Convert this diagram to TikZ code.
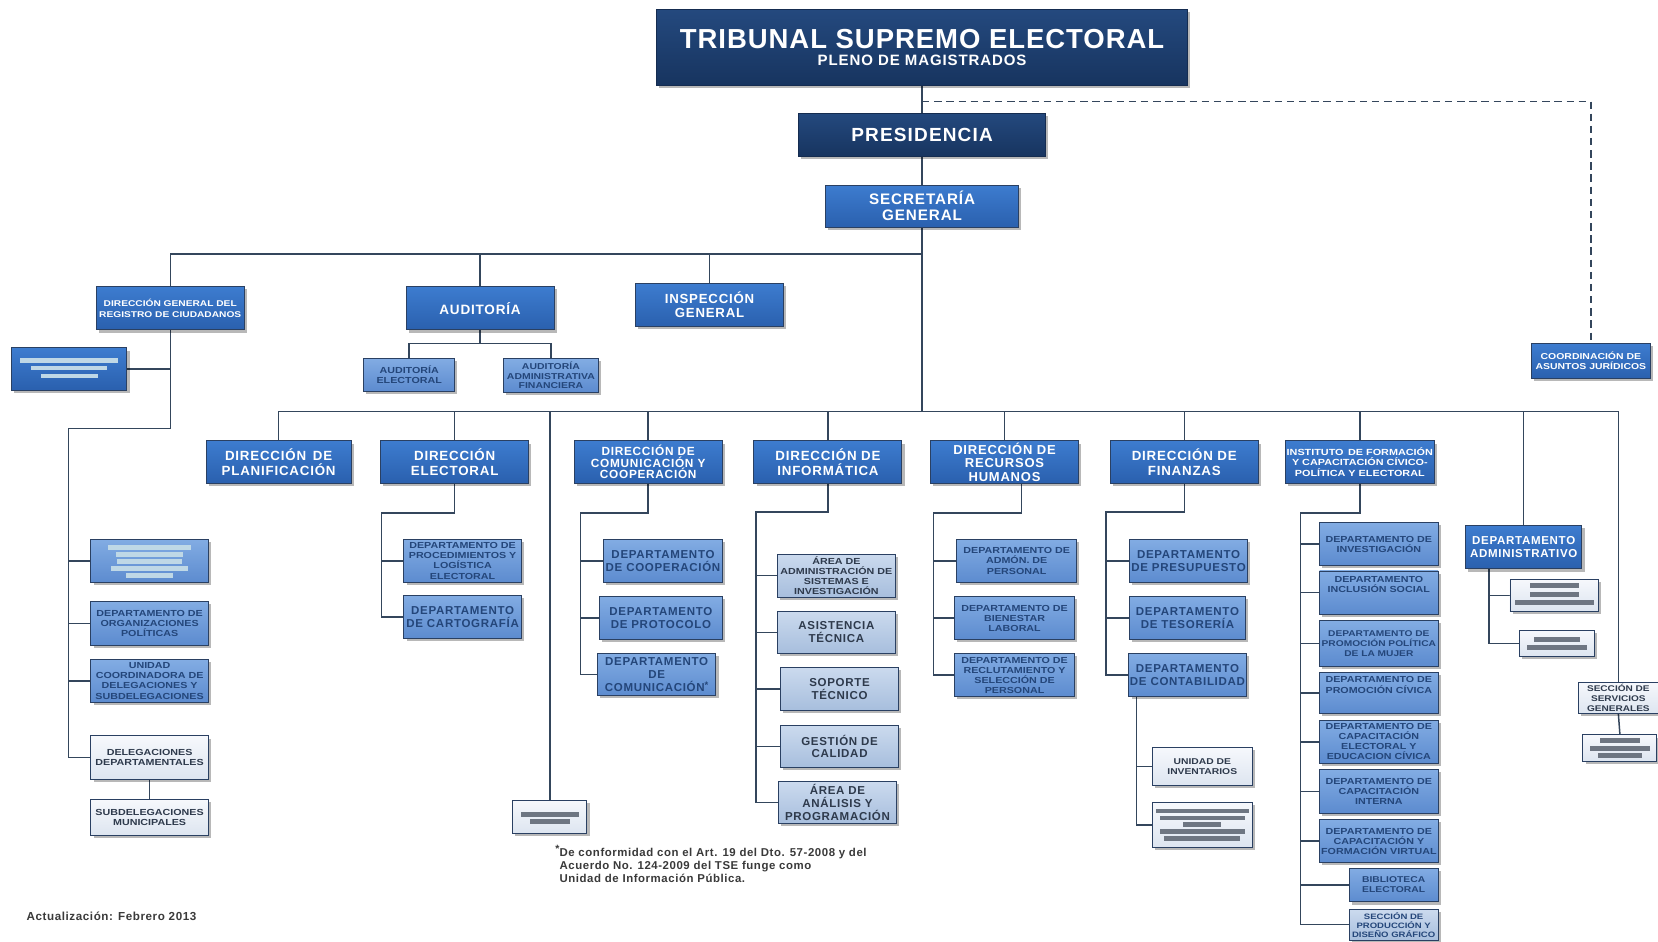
\documentclass[tikz,border=0pt]{standalone}
\usepackage{fontspec}
\setmainfont{Liberation Sans}
\newfontfamily\widefont[LetterSpace=6]{Liberation Sans}
\newfontfamily\titlefont[LetterSpace=3.5]{Liberation Sans}
\newfontfamily\notefont[LetterSpace=5]{Liberation Sans}
\newfontfamily\xfont[FakeStretch=1.22]{Liberation Sans}
\usetikzlibrary{shadows}

\definecolor{navyT}{HTML}{24497E}
\definecolor{navyB}{HTML}{17345F}
\definecolor{navyD}{HTML}{152C50}
\definecolor{midT}{HTML}{3D7CCF}
\definecolor{midB}{HTML}{2A60AE}
\definecolor{lightT}{HTML}{82ACE3}
\definecolor{lightB}{HTML}{5C8BCF}
\definecolor{gbT}{HTML}{CBDAEE}
\definecolor{gbB}{HTML}{A7BEDD}
\definecolor{paleT}{HTML}{F6F8FC}
\definecolor{paleB}{HTML}{DDE5F0}
\definecolor{bdr}{HTML}{2A4062}
\definecolor{deptText}{HTML}{24467A}
\definecolor{darkText}{HTML}{2E3A4C}
\definecolor{lineC}{HTML}{34465C}
\definecolor{hatchL}{HTML}{BFD8E6}
\definecolor{hatchD}{HTML}{6E7682}
\definecolor{noteC}{HTML}{3A3A3A}

\newcommand\fs[2]{\fontsize{#1}{#2}\selectfont}
% box: style, name, left, top, right, bottom, text
\newcommand\ob[7]{\node[#1, minimum width={(#5)-(#3)}, minimum height={(#6)-(#4)}] (#2) at ({((#3)+(#5))/2},{((#4)+(#6))/2}) {#7};}
% redacted text strip: colour, centre x, centre y, width
\newcommand\hatchbar[4]{\fill[#1] ({(#2)-(#4)/2},{(#3)-2.2}) rectangle ({(#2)+(#4)/2},{(#3)+2.2});}

\pgfdeclarelayer{back}
\pgfdeclarelayer{wires}
\pgfsetlayers{back,wires,main}

\tikzset{
  box/.style={draw=bdr, line width=0.9pt, inner sep=1pt, outer sep=0pt, align=center,
    drop shadow={shadow xshift=2.5pt, shadow yshift=-2.5pt, fill=black, opacity=.28}},
  navy/.style={box, top color=navyT, bottom color=navyB, draw=navyD, text=white},
  mid/.style={box, top color=midT, bottom color=midB, text=white},
  light/.style={box, top color=lightT, bottom color=lightB, text=deptText},
  gblue/.style={box, top color=gbT, bottom color=gbB, text=darkText},
  pale/.style={box, top color=paleT, bottom color=paleB, text=darkText},
  ln/.style={draw=lineC, line width=1.4pt},
  wA/.style={font=\widefont\bfseries\fs{12.6}{13.5}},
  wC/.style={font=\widefont\bfseries\fs{10.9}{12}},
  sA/.style={font=\xfont\bfseries\fs{8.3}{9.5}},
}

\begin{document}
\begin{tikzpicture}[x=1pt,y=-1pt]
\begin{pgfonlayer}{back}
  \fill[white] (0,0) rectangle (1568,890);
\end{pgfonlayer}
\useasboundingbox (0,0) rectangle (1568,890);

% ---------- top of the hierarchy ----------
\ob{navy,font=\bfseries\fs{14}{16.5}}{tse}{621}{9}{1123}{81}{{\titlefont\bfseries\fs{26}{16.5}TRIBUNAL SUPREMO ELECTORAL}\\{\widefont\bfseries\fs{14.2}{16.5}PLENO DE MAGISTRADOS}}
\ob{navy,font=\widefont\bfseries\fs{18}{19}}{pres}{755}{107}{989}{148}{PRESIDENCIA}
\ob{mid,font=\widefont\bfseries\fs{14.4}{15}}{sec}{781}{175}{963}{215}{SECRETARÍA\\GENERAL}
\ob{mid,font=\xfont\bfseries\fs{7.9}{10}}{dgrc}{91}{271}{231}{312}{DIRECCIÓN GENERAL DEL\\REGISTRO DE CIUDADANOS}
\ob{mid,font=\widefont\bfseries\fs{12.8}{14}}{aud}{384}{271}{524}{312}{AUDITORÍA}
\ob{mid,font=\widefont\bfseries\fs{12.5}{13.5}}{insp}{601}{268}{741}{309}{INSPECCIÓN\\GENERAL}
\ob{light,sA}{ae}{344}{339}{430}{370}{AUDITORÍA\\ELECTORAL}
\ob{light,font=\xfont\bfseries\fs{8.1}{9.3}}{aaf}{476}{339}{566}{371}{AUDITORÍA\\ADMINISTRATIVA\\FINANCIERA}
\ob{mid,font=\xfont\bfseries\fs{8.1}{9.6}}{cj}{1448}{325}{1561}{358}{COORDINACIÓN DE\\ASUNTOS JURÍDICOS}
\ob{mid}{red0}{11}{329}{120}{369}{}

% ---------- directorates ----------
\ob{mid,wA}{plan}{195}{417}{332}{457}{DIRECCIÓN\enspace DE\\PLANIFICACIÓN}
\ob{mid,wA}{elec}{360}{417}{500}{457}{DIRECCIÓN\\ELECTORAL}
\ob{mid,font=\widefont\bfseries\fs{11.2}{11}}{comc}{543}{417}{683}{457}{DIRECCIÓN DE\\COMUNICACIÓN Y\\COOPERACIÓN}
\ob{mid,wA}{inf}{713}{417}{853}{457}{DIRECCIÓN DE\\INFORMÁTICA}
\ob{mid,font=\widefont\bfseries\fs{12.3}{12.6}}{rh}{880}{417}{1020}{457}{DIRECCIÓN DE\\RECURSOS\\HUMANOS}
\ob{mid,wA}{fin}{1050}{417}{1190}{457}{DIRECCIÓN DE\\FINANZAS}
\ob{mid,font=\xfont\bfseries\fs{8.4}{9.8}}{ifc}{1216}{417}{1356}{457}{INSTITUTO\enspace DE FORMACIÓN\\Y CAPACITACIÓN CÍVICO-\\POLÍTICA Y ELECTORAL}
\ob{mid,font=\widefont\bfseries\fs{10.9}{12}}{dadm}{1386}{497}{1496}{538}{DEPARTAMENTO\\ADMINISTRATIVO}
\ob{pale,font=\xfont\bfseries\fs{7.8}{9}}{serv}{1493}{645}{1568}{675}{SECCIÓN DE\\SERVICIOS\\GENERALES}

% ---------- citizen registry ----------
\ob{light}{red1}{86}{510}{197}{551}{}
\ob{light,sA}{org}{86}{569}{197}{610}{DEPARTAMENTO DE\\ORGANIZACIONES\\POLÍTICAS}
\ob{light,sA}{ucd}{86}{624}{197}{664}{UNIDAD\\COORDINADORA DE\\DELEGACIONES Y\\SUBDELEGACIONES}
\ob{pale,sA}{deleg}{86}{696}{197}{737}{DELEGACIONES\\DEPARTAMENTALES}
\ob{pale,sA}{subdel}{86}{756}{197}{790}{SUBDELEGACIONES\\MUNICIPALES}
\ob{pale}{redm}{485}{757}{555}{788}{}

% ---------- electoral ----------
\ob{light,sA}{proc}{382}{510}{493}{551}{DEPARTAMENTO DE\\PROCEDIMIENTOS Y\\LOGÍSTICA\\ELECTORAL}
\ob{light,wC}{cart}{382}{563}{493}{604}{DEPARTAMENTO\\DE CARTOGRAFÍA}

% ---------- communication ----------
\ob{light,wC}{coop}{571}{510}{683}{551}{DEPARTAMENTO\\DE COOPERACIÓN}
\ob{light,wC}{prot}{567}{564}{683}{605}{DEPARTAMENTO\\DE PROTOCOLO}
\ob{light,wC}{dcom}{565}{618}{677}{658}{DEPARTAMENTO\\DE\\COMUNICACIÓN\raisebox{3pt}{\fs{9}{9}*}}

% ---------- informatics ----------
\ob{gblue,sA}{asi}{735}{524}{847}{565}{ÁREA DE\\ADMINISTRACIÓN DE\\SISTEMAS E\\INVESTIGACIÓN}
\ob{gblue,wC}{ast}{735}{578}{847}{618}{ASISTENCIA\\TÉCNICA}
\ob{gblue,wC}{sop}{738}{631}{850}{672}{SOPORTE\\TÉCNICO}
\ob{gblue,wC}{gca}{738}{686}{850}{726}{GESTIÓN DE\\CALIDAD}
\ob{gblue,wC}{aap}{736}{739}{848}{779}{ÁREA DE\\ANÁLISIS Y\\PROGRAMACIÓN}

% ---------- human resources ----------
\ob{light,sA}{adp}{905}{510}{1018}{551}{DEPARTAMENTO DE\\ADMÓN. DE\\PERSONAL}
\ob{light,sA}{bil}{903}{564}{1016}{605}{DEPARTAMENTO DE\\BIENESTAR\\LABORAL}
\ob{light,sA}{rsp}{903}{618}{1016}{659}{DEPARTAMENTO DE\\RECLUTAMIENTO Y\\SELECCIÓN DE\\PERSONAL}

% ---------- finance ----------
\ob{light,wC}{pre}{1068}{510}{1180}{551}{DEPARTAMENTO\\DE PRESUPUESTO}
\ob{light,wC}{tes}{1068}{564}{1178}{605}{DEPARTAMENTO\\DE TESORERÍA}
\ob{light,wC}{con}{1068}{618}{1178}{659}{DEPARTAMENTO\\DE CONTABILIDAD}
\ob{pale,font=\xfont\bfseries\fs{8}{9.5}}{uinv}{1090}{707}{1184}{743}{UNIDAD DE\\INVENTARIOS}
\ob{pale}{redF}{1090}{759}{1184}{801}{}

% ---------- training institute ----------
\ob{light,sA}{dinv}{1248}{494}{1360}{535}{DEPARTAMENTO DE\\INVESTIGACIÓN}
\ob{light,sA}{dinc}{1248}{540}{1360}{581}{DEPARTAMENTO\\INCLUSIÓN SOCIAL\\[6pt]}
\ob{light,font=\xfont\bfseries\fs{7.9}{9.5}}{dmuj}{1248}{587}{1360}{630}{DEPARTAMENTO DE\\PROMOCIÓN POLÍTICA\\DE LA MUJER}
\ob{light,sA}{dciv}{1248}{636}{1360}{675}{DEPARTAMENTO DE\\PROMOCIÓN CÍVICA\\[6pt]}
\ob{light,sA}{dcee}{1248}{681}{1360}{722}{DEPARTAMENTO DE\\CAPACITACIÓN\\ELECTORAL Y\\EDUCACION CÍVICA}
\ob{light,sA}{dci}{1248}{728}{1360}{769}{DEPARTAMENTO DE\\CAPACITACIÓN\\INTERNA}
\ob{light,sA}{dcfv}{1248}{775}{1360}{816}{DEPARTAMENTO DE\\CAPACITACIÓN Y\\FORMACIÓN VIRTUAL}
\ob{light,font=\xfont\bfseries\fs{8}{9.5}}{bib}{1276}{821}{1360}{853}{BIBLIOTECA\\ELECTORAL}
\ob{gblue,font=\xfont\bfseries\fs{7.4}{8.6},text=deptText}{prod}{1276}{860}{1360}{889}{SECCIÓN DE\\PRODUCCIÓN Y\\DISEÑO GRÁFICO}

% ---------- administrative department ----------
\ob{pale}{redA1}{1428}{548}{1512}{578}{}
\ob{pale}{redA2}{1437}{596}{1508}{621}{}
\ob{pale}{redS}{1497}{695}{1567}{720}{}

% ---------- redacted text strips ----------
\hatchbar{hatchL}{65.5}{341}{93}
\hatchbar{hatchL}{65.5}{348}{72}
\hatchbar{hatchL}{65.5}{355.5}{54}
\hatchbar{hatchL}{141.5}{518}{79}
\hatchbar{hatchL}{141.5}{524.5}{64}
\hatchbar{hatchL}{141.5}{531}{61}
\hatchbar{hatchL}{141.5}{537.5}{73}
\hatchbar{hatchL}{141.5}{544}{44}
\hatchbar{hatchD}{520}{770}{55}
\hatchbar{hatchD}{520}{777}{38}
\hatchbar{hatchD}{1137}{767}{88}
\hatchbar{hatchD}{1137}{773.5}{80}
\hatchbar{hatchD}{1137}{780}{36}
\hatchbar{hatchD}{1137}{786.5}{80}
\hatchbar{hatchD}{1137}{793}{72}
\hatchbar{hatchD}{1470}{554}{47}
\hatchbar{hatchD}{1470}{562}{47}
\hatchbar{hatchD}{1470}{570}{74}
\hatchbar{hatchD}{1472.5}{604.5}{43}
\hatchbar{hatchD}{1472.5}{612.5}{57}
\hatchbar{hatchD}{1532}{700.5}{38}
\hatchbar{hatchD}{1532}{707.7}{57}
\hatchbar{hatchD}{1532}{714.3}{41}

% ---------- notes ----------
\node[anchor=north west, align=left, text=noteC, font=\notefont\bfseries\fs{10.8}{12.5}, inner sep=0pt] (nota) at (529,799)
  {\llap{\raisebox{3.5pt}{\fs{10}{10}*}}De conformidad con el Art. 19 del Dto. 57-2008 y del\\
   Acuerdo No. 124-2009 del TSE funge como\\
   Unidad de Información Pública.};
\node[anchor=west, text=noteC, font=\notefont\bfseries\fs{11}{12}, inner sep=0pt] (upd) at (25,867) {Actualización: Febrero 2013};

% ---------- connectors ----------
\coordinate (busA) at (872,240);
\coordinate (busB) at (872,389);
\coordinate (dsh) at (872,96);
\coordinate (lt) at (65,405);
\coordinate (eT) at (361,485);
\coordinate (cT) at (549,485);
\coordinate (iT) at (715,484);
\coordinate (hT) at (883,485);
\coordinate (fT) at (1046,484);
\coordinate (sT) at (1230,485);

\begin{pgfonlayer}{wires}
  % spine
  \draw[ln] (tse.south) -- (pres.north);
  \draw[ln] (pres.south) -- (sec.north);
  \draw[ln] (sec.south) -- (busB);
  \draw[ln, dash pattern=on 7pt off 4.5pt] (dsh) -| (cj.north);
  % first tier
  \draw[ln] (dgrc.north) |- (busA);
  \draw[ln] (aud.north) -- (aud.north |- busA);
  \draw[ln] (insp.north) -- (insp.north |- busA);
  \draw[ln] (ae.north) |- (454,325) -| (aaf.north);
  \draw[ln] (aud.south) -- (454,325);
  % citizen registry
  \draw[ln] (red0.east) -- (red0.east -| dgrc.south);
  \draw[ln] (dgrc.south) |- (lt) |- (deleg.west);
  \draw[ln] (red1.west) -- (red1.west -| lt);
  \draw[ln] (org.west) -- (org.west -| lt);
  \draw[ln] (ucd.west) -- (ucd.west -| lt);
  \draw[ln] (deleg.south) -- (subdel.north);
  % second tier bus
  \draw[ln] (plan.north) |- (busB) -| (serv.north);
  \foreach \n in {elec, redm, comc, inf, rh, fin, ifc, dadm}
    \draw[ln] (\n.north) -- (\n.north |- busB);
  % electoral
  \draw[ln] (elec.south) |- (eT) |- (cart.west);
  \draw[ln] (proc.west) -- (proc.west -| eT);
  % communication
  \draw[ln] (comc.south) |- (cT) |- (dcom.west);
  \foreach \n in {coop, prot}
    \draw[ln] (\n.west) -- (\n.west -| cT);
  % informatics
  \draw[ln] (inf.south) |- (iT) |- (aap.west);
  \foreach \n in {asi, ast, sop, gca}
    \draw[ln] (\n.west) -- (\n.west -| iT);
  % human resources
  \draw[ln] ([xshift=16pt]rh.south) |- (hT) |- (rsp.west);
  \foreach \n in {adp, bil}
    \draw[ln] (\n.west) -- (\n.west -| hT);
  % finance
  \draw[ln] (fin.south) |- (fT) |- (con.west);
  \foreach \n in {pre, tes}
    \draw[ln] (\n.west) -- (\n.west -| fT);
  \draw[ln] ([xshift=-48pt]con.south) |- (redF.west);
  \draw[ln] (uinv.west) -- (uinv.west -| 1075,0);
  % training institute
  \draw[ln] (ifc.south) |- (sT) |- (prod.west);
  \foreach \n in {dinv, dinc, dmuj, dciv, dcee, dci, dcfv, bib}
    \draw[ln] (\n.west) -- (\n.west -| sT);
  % administrative department
  \draw[ln] ([xshift=-33pt]dadm.south) |- (redA2.west);
  \draw[ln] (redA1.west) -- (redA1.west -| 1408,0);
  % general services
  \draw[ln] (serv.south) -- (redS.north);
\end{pgfonlayer}
\end{tikzpicture}
\end{document}
